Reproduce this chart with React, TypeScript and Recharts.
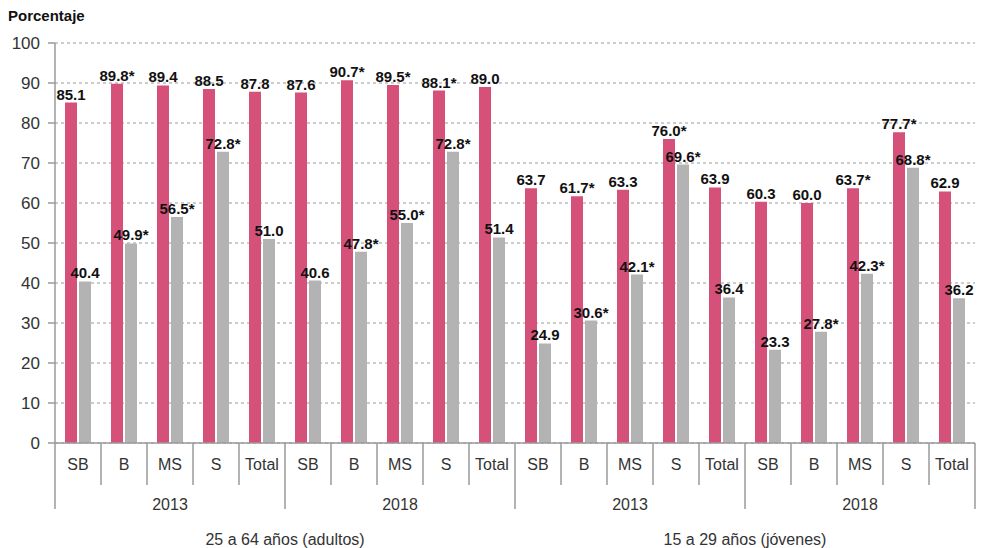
import { BarChart, Bar, XAxis, YAxis, CartesianGrid, LabelList } from 'recharts';

const categories = ['SB', 'B', 'MS', 'S', 'Total'];
const years = ['2013', '2018'];
const ageGroups = ['25 a 64 años (adultos)', '15 a 29 años (jóvenes)'];

const pinkValues = [85.1, 89.8, 89.4, 88.5, 87.8, 87.6, 90.7, 89.5, 88.1, 89.0, 63.7, 61.7, 63.3, 76.0, 63.9, 60.3, 60.0, 63.7, 77.7, 62.9];
const pinkLabels = ['85.1', '89.8*', '89.4', '88.5', '87.8', '87.6', '90.7*', '89.5*', '88.1*', '89.0', '63.7', '61.7*', '63.3', '76.0*', '63.9', '60.3', '60.0', '63.7*', '77.7*', '62.9'];
const grayValues = [40.4, 49.9, 56.5, 72.8, 51.0, 40.6, 47.8, 55.0, 72.8, 51.4, 24.9, 30.6, 42.1, 69.6, 36.4, 23.3, 27.8, 42.3, 68.8, 36.2];
const grayLabels = ['40.4', '49.9*', '56.5*', '72.8*', '51.0', '40.6', '47.8*', '55.0*', '72.8*', '51.4', '24.9', '30.6*', '42.1*', '69.6*', '36.4', '23.3', '27.8*', '42.3*', '68.8*', '36.2'];
const yTicks = [0, 10, 20, 30, 40, 50, 60, 70, 80, 90, 100];

const W = 982;
const H = 548;
const Y_AXIS_W = 55;
const MARGIN = { top: 43, right: 7, left: 0, bottom: 5 };
const PLOT_W = W - Y_AXIS_W - MARGIN.left - MARGIN.right;
const FONT = '"Liberation Sans", Arial, Helvetica, sans-serif';
const AXIS_COLOR = '#9a9a9a';
const TEXT_COLOR = '#333';

const data = pinkValues.map((v, i) => ({
  cat: categories[i % categories.length],
  year: years[Math.floor(i / categories.length) % years.length],
  group: ageGroups[Math.floor(i / (categories.length * years.length))],
  pink: v,
  pinkLabel: pinkLabels[i],
  gray: grayValues[i],
  grayLabel: grayLabels[i],
}));

// three-level axis: category, year, age group
function MultiTick(props: any) {
  const { x, y, index } = props;
  const d = data[index];
  if (!d) return null;
  const band = PLOT_W / data.length;
  const left = x - band / 2;
  const right = x + band / 2;
  const n = categories.length;
  const endOfYear = (index + 1) % n === 0;
  return (
    <g fontFamily={FONT} fontSize={16} fill={TEXT_COLOR}>
      <text x={x} y={y + 27} textAnchor="middle">{d.cat}</text>
      {index === 0 && <line x1={left} y1={y} x2={left} y2={y + 66} stroke={AXIS_COLOR} strokeWidth={1.5} />}
      <line x1={right} y1={y} x2={right} y2={y + (endOfYear ? 66 : 42)} stroke={AXIS_COLOR} strokeWidth={1.5} />
      {index % n === 2 && <text x={x} y={y + 67} textAnchor="middle">{d.year}</text>}
      {index % (n * 2) === n - 1 && <text x={right} y={y + 102} textAnchor="middle">{d.group}</text>}
    </g>
  );
}

function YTick(props: any) {
  const { y, payload } = props;
  return (
    <text x={Y_AXIS_W - 15} y={y + 6} textAnchor="end" fontFamily={FONT} fontSize={17} fill={TEXT_COLOR}>
      {payload.value}
    </text>
  );
}

function BarLabel(props: any) {
  const { x, y, width, value } = props;
  return (
    <text x={x + width / 2} y={y - 3} textAnchor="middle" fontFamily={FONT} fontSize={15} fontWeight={700} fill="#111">
      {value}
    </text>
  );
}

export default function App() {
  return (
    <div style={{ position: 'absolute', left: 0, top: 0, width: W, height: H, background: '#fff' }}>
      <div style={{ position: 'absolute', left: 8, top: 7, fontFamily: FONT, fontWeight: 700, fontSize: 15, color: '#111' }}>
        Porcentaje
      </div>
      <BarChart width={W} height={H} data={data} margin={MARGIN} barSize={12} barGap={2}>
        <CartesianGrid horizontal vertical={false} stroke={AXIS_COLOR} strokeDasharray="3 3" />
        <XAxis
          dataKey="cat"
          interval={0}
          height={100}
          tickSize={0}
          tickMargin={0}
          tickLine={false}
          axisLine={{ stroke: AXIS_COLOR, strokeWidth: 1.5 }}
          tick={<MultiTick />}
        />
        <YAxis
          width={Y_AXIS_W}
          domain={[0, 100]}
          ticks={yTicks}
          interval={0}
          tickSize={7}
          axisLine={{ stroke: AXIS_COLOR, strokeWidth: 1.5 }}
          tickLine={{ stroke: AXIS_COLOR, strokeWidth: 1.5 }}
          tick={<YTick />}
        />
        <Bar dataKey="pink" fill="#d6517a" isAnimationActive={false}>
          <LabelList dataKey="pinkLabel" content={<BarLabel />} />
        </Bar>
        <Bar dataKey="gray" fill="#b3b3b3" isAnimationActive={false}>
          <LabelList dataKey="grayLabel" content={<BarLabel />} />
        </Bar>
      </BarChart>
    </div>
  );
}
